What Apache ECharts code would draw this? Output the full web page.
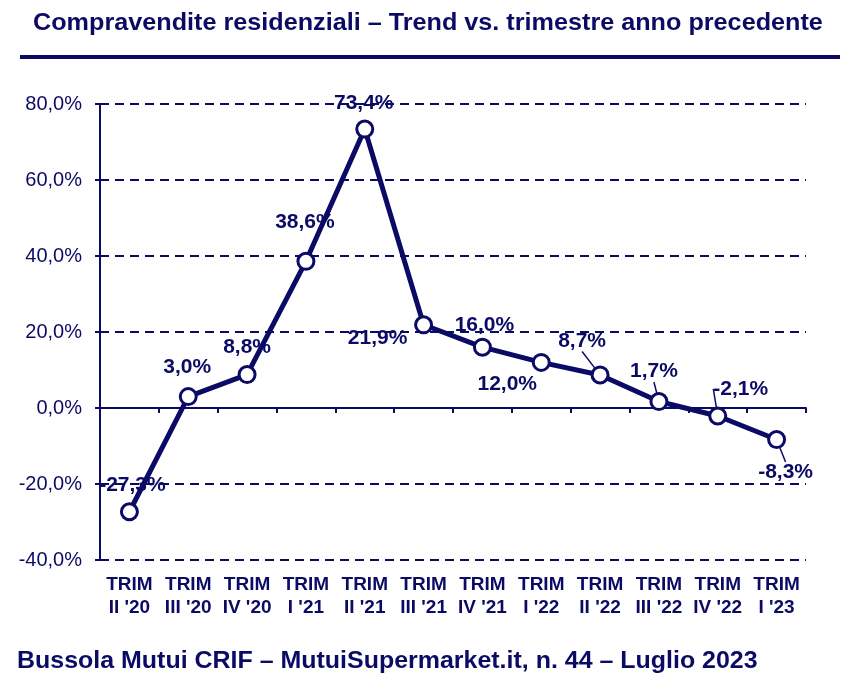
<!DOCTYPE html>
<html><head><meta charset="utf-8">
<script src="https://cdn.jsdelivr.net/npm/echarts@6/dist/echarts.min.js"></script>
<style>html,body{margin:0;padding:0;background:#fff}#c{width:863px;height:693px}</style>
</head><body><div id="c"></div>
<script>
const categories = ["TRIM\nII '20","TRIM\nIII '20","TRIM\nIV '20","TRIM\nI '21","TRIM\nII '21","TRIM\nIII '21","TRIM\nIV '21","TRIM\nI '22","TRIM\nII '22","TRIM\nIII '22","TRIM\nIV '22","TRIM\nI '23"];
const values = [-27.3, 3.0, 8.8, 38.6, 73.4, 21.9, 16.0, 12.0, 8.7, 1.7, -2.1, -8.3];
const yTicks = {min: -40, max: 80, interval: 20};
const titleText = "Compravendite residenziali \u2013 Trend vs. trimestre anno precedente";
const footerText = "Bussola Mutui CRIF \u2013 MutuiSupermarket.it, n. 44 \u2013 Luglio 2023";

// label displacement [dx, dy] relative to point (styling only)
const labelOffsets = [[3,-27],[-1,-29],[0,-27],[-1,-39],[-1,-26],[-46,13],[2,-22],[-34,22],[-18,-34],[-5,-30],[23,-27],[9,33]];
const leader = [false,false,false,false,false,false,false,false,true,true,true,true];

const navy = '#0b0b66';
const chart = echarts.init(document.getElementById('c'));
const fmt = v => v.toFixed(1).replace('.', ',') + '%';

chart.setOption({
  animation: false,
  backgroundColor: '#fff',
  graphic: [
    {type:'text', x:33, y:11, scaleX:1.05, style:{text:titleText, font:'bold 24px "Liberation Sans", Arial', fill:navy}},
    {type:'rect', shape:{x:20, y:55, width:820, height:4}, style:{fill:navy}},
    {type:'text', x:17, y:649, scaleX:1.04, style:{text:footerText, font:'bold 24px "Liberation Sans", Arial', fill:navy}}
  ],
  grid: {left:100, right:57, top:104, bottom:133},
  xAxis: [
    {type:'category', data:categories, boundaryGap:true,
     axisLine:{onZero:true, lineStyle:{color:navy, width:2}},
     axisTick:{show:true, length:5, lineStyle:{color:navy, width:2}},
     axisLabel:{show:false}},
    {type:'category', data:categories, position:'bottom', boundaryGap:true,
     axisLine:{show:false, onZero:false}, axisTick:{show:false},
     axisLabel:{show:true, color:navy, fontFamily:'"Liberation Sans", Arial', fontWeight:'bold', fontSize:19, lineHeight:23, margin:13, interval:0}}
  ],
  yAxis: {type:'value', min:yTicks.min, max:yTicks.max, interval:yTicks.interval,
    axisLine:{show:true, lineStyle:{color:navy, width:2}},
    axisTick:{show:true, length:5, lineStyle:{color:navy, width:2}},
    axisLabel:{color:navy, fontFamily:'"Liberation Sans", Arial', fontSize:20, margin:18, formatter:fmt},
    splitLine:{show:true, lineStyle:{color:navy, width:2, type:[9,6]}}
  },
  series: [{
    type:'line', xAxisIndex:0,
    data: values.map((v,i)=>({value:v, labelLine:{show:leader[i]}})),
    lineStyle:{color:navy, width:5},
    symbol:'circle', symbolSize:16,
    itemStyle:{color:'#fff', borderColor:navy, borderWidth:3},
    label:{show:true, position:'inside', color:navy, fontFamily:'"Liberation Sans", Arial', fontWeight:'bold', fontSize:21,
      formatter:p=>fmt(p.value)},
    labelLine:{show:false, lineStyle:{color:navy, width:1.5}, length2:0},
    labelLayout: p => ({dx: labelOffsets[p.dataIndex][0], dy: labelOffsets[p.dataIndex][1]}),
    z:5
  }]
});
</script></body></html>
